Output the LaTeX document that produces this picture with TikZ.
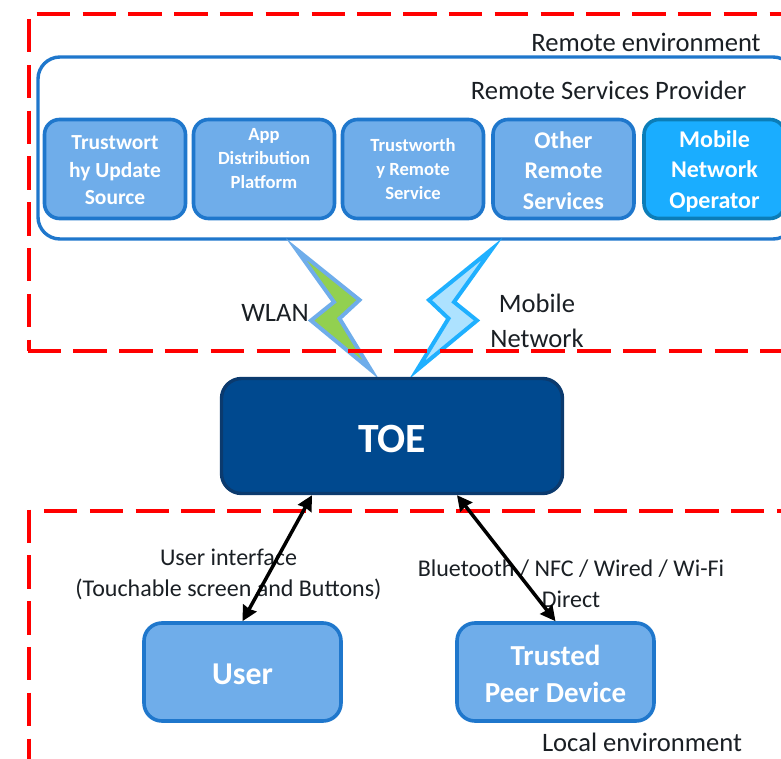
\documentclass[tikz,border=0pt]{standalone}
\usepackage{fontspec}
\setmainfont{Carlito}
\usetikzlibrary{arrows.meta}
\definecolor{boxfill}{HTML}{6FADEA}
\definecolor{boxline}{HTML}{1F77CC}
\definecolor{mnofill}{HTML}{1AADFF}
\definecolor{mnoline}{HTML}{0B7DB8}
\definecolor{toefill}{HTML}{00498F}
\definecolor{toeline}{HTML}{0B3A6E}
\definecolor{ink}{HTML}{1A1F24}
\definecolor{boltgreen}{HTML}{92D050}
\definecolor{boltblue}{HTML}{ADE2FF}
\definecolor{boltedge}{HTML}{1FB0FF}
\begin{document}
\begin{tikzpicture}[x=1pt,y=-1pt,
  svc/.style={draw=boxline,line width=3.6pt,fill=boxfill,rounded corners=15pt,inner sep=0pt,anchor=center,minimum width=141pt,minimum height=99pt},
  lower/.style={svc,minimum width=197pt,minimum height=98pt,rounded corners=18pt},
  svctext/.style={text=white,align=center,inner sep=0pt},
  big/.style={font=\bfseries\fontsize{24}{30.5}\selectfont},
  small/.style={font=\bfseries\fontsize{18.6}{24}\selectfont},
  zone/.style={draw=red,line width=3.4pt,dash pattern=on 33.4pt off 12.4pt},
  lbl/.style={text=ink,align=center,inner sep=0pt},
  large/.style={font=\fontsize{26.6}{35}\selectfont},
  medium/.style={font=\fontsize{24}{31}\selectfont},
  link/.style={{Stealth[length=15pt,width=15pt,inset=1pt]}-{Stealth[length=15pt,width=15pt,inset=1pt]},line width=3.5pt,draw=black}]
\useasboundingbox (0,0) rectangle (781,759);
% provider
\draw[draw=boxline,line width=3.4pt,rounded corners=22pt] (38,57) rectangle (795,239);
% bolts
\draw[draw=boxfill,fill=boltgreen,line width=4pt,miter limit=20,line join=miter] (296,249) -- (359.5,300) -- (339.5,318.5) -- (371,370) -- (311,320.5) -- (334,302) -- cycle;
\draw[draw=boltedge,fill=boltblue,line width=4pt,miter limit=20,line join=miter] (492,249) -- (429,300) -- (448.5,318.5) -- (417,370) -- (477,320.5) -- (454,302) -- cycle;
% zones
\draw[zone] (36.7,14) -- (781,14);
\draw[zone] (29,19) -- (29,351);
\draw[zone] (27.5,351) -- (781,351);
\draw[zone] (44,511) -- (781,511);
\draw[zone] (29,509.5) -- (29,759);
% labels top
\node[lbl,large] (remote) at (646,42.5) {Remote environment};
\node[lbl,large] (rsp) at (608.5,90.5) {Remote Services Provider};
% services
\node[svc] (s1) at (115,169) {};
\node[svctext,font=\bfseries\fontsize{21.5}{27.5}\selectfont] (s1t) at (115,170.5) {Trustwort\\hy Update\\Source};
\node[svc] (s2) at (264,169) {};
\node[svctext,small] (s2t) at (264,159) {App\\Distribution\\Platform};
\node[svc] (s3) at (413,169) {};
\node[svctext,small] (s3t) at (413,169.5) {Trustworth\\y Remote\\Service};
\node[svc] (s4) at (563.5,169) {};
\node[svctext,big] (s4t) at (563.5,170.5) {Other\\Remote\\Services};
\node[svc,draw=mnoline,fill=mnofill] (s5) at (714.5,169) {};
\node[svctext,big] (s5t) at (714.5,171) {Mobile\\Network\\Operator};
% TOE
\node[draw=toeline,line width=3.4pt,fill=toefill,rounded corners=20pt,minimum width=341pt,minimum height=115pt,inner sep=0pt] (toe) at (392,436) {};
\node[svctext,font=\bfseries\fontsize{41.6}{46}\selectfont] (toet) at (392,438.5) {TOE};
% labels mid
\node[lbl,large] (wlan) at (275,313) {WLAN};
\node[lbl,large] (mob) at (537,321) {Mobile\\Network};
% lower nodes
\node[lower] (user) at (242.5,672) {};
\node[svctext,font=\bfseries\fontsize{31.8}{38}\selectfont] (usert) at (242.5,674) {User};
\node[lower] (peer) at (555.5,672) {};
\node[svctext,font=\bfseries\fontsize{29}{37}\selectfont] (peert) at (555.5,674) {Trusted\\Peer Device};
% labels and arrows
\node[lbl,medium] (ui) at (228.5,574) {User interface\\(Touchable screen and Buttons)};
\node[lbl,medium] (bt) at (571,583.5) {Bluetooth / NFC / Wired / Wi-Fi\\Direct};
\draw[link] ([xshift=-80pt]toe.south) -- (user.north);
\draw[link] ([xshift=65pt]toe.south) -- (peer.north);
\node[lbl,large] (local) at (642,742.5) {Local environment};
\end{tikzpicture}
\end{document}
